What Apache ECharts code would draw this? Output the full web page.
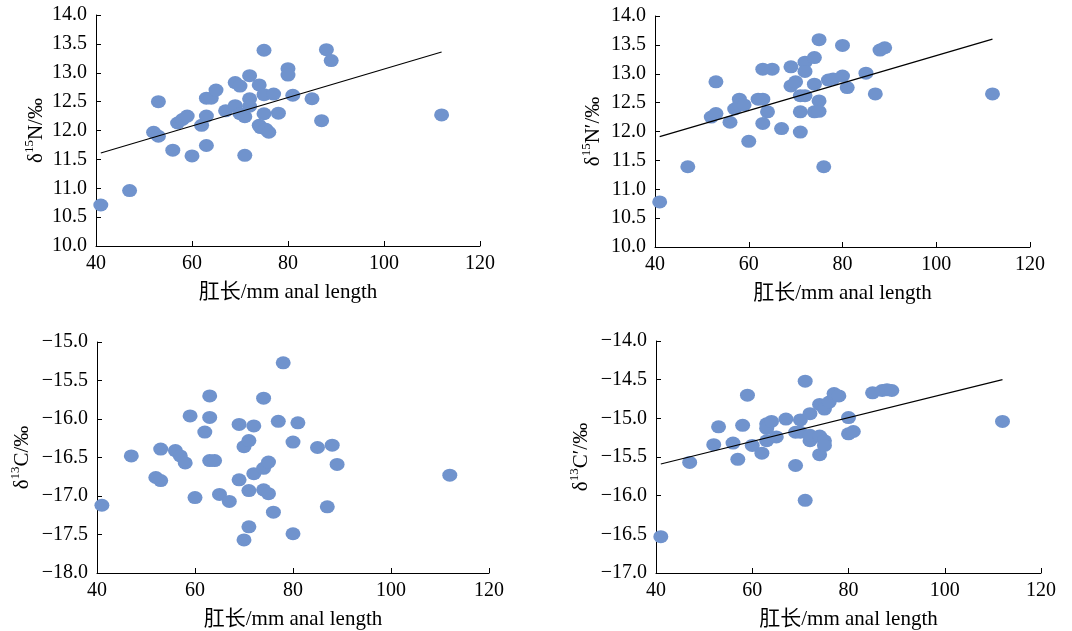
<!DOCTYPE html>
<html>
<head>
<meta charset="utf-8">
<script src="https://cdn.jsdelivr.net/npm/echarts@6/dist/echarts.min.js"></script>
<style>
  html, body { margin: 0; padding: 0; background: #fff; }
  #chart { width: 1072px; height: 631px; }
</style>
</head>
<body>
<div id="chart"></div>
<script>
// anal length (mm) vs isotope values
const xTicks = [40, 60, 80, 100, 120];

const n15 = [
  [41, 10.71], [47, 10.96], [53, 12.50], [52, 11.97], [53, 11.90], [56, 11.66],
  [57, 12.13], [58, 12.19], [59, 12.25], [60, 11.56], [62, 12.09], [63, 12.25],
  [63, 11.74], [63, 12.56], [64, 12.56], [65, 12.70], [67, 12.34], [69, 12.83],
  [70, 12.77], [69, 12.43], [70, 12.29], [71, 12.24], [71, 11.57], [72, 12.95],
  [72, 12.55], [72, 12.42], [74, 12.79], [74, 12.09], [74.3, 12.05], [75, 13.39],
  [75, 12.62], [75, 12.29], [75.4, 12.02], [76, 11.97], [77, 12.63], [78, 12.30],
  [80, 13.07], [80, 12.96], [81, 12.61], [85, 12.55], [87, 12.17], [88, 13.40],
  [89, 13.21], [112, 12.27]
];
const n15Fit = [[41, 11.61], [112, 13.36]];

const n15Adj = [
  [41, 10.78], [47, 11.39], [53, 12.86], [52, 12.25], [53, 12.31], [56, 12.16],
  [57, 12.39], [58, 12.56], [58, 12.46], [59, 12.46], [60, 11.83], [62, 12.56],
  [63, 12.56], [63, 13.08], [63, 12.14], [64, 12.34], [65, 13.08], [67, 12.05],
  [69, 13.12], [69, 12.79], [70, 12.86], [71, 12.62], [71, 12.34], [71, 11.99],
  [72, 13.20], [72, 13.04], [72, 12.62], [74, 13.28], [74, 12.82], [74, 12.34],
  [75, 13.59], [75, 12.53], [75, 12.35], [76, 11.39], [77, 12.89], [78, 12.91],
  [80, 13.49], [80, 12.96], [81, 12.76], [85, 13.01], [87, 12.65], [88, 13.41],
  [89, 13.45], [112, 12.65]
];
const n15AdjFit = [[41, 11.91], [112, 13.60]];

const c13 = [
  [41, -17.12], [47, -16.48], [53, -16.39], [52, -16.76], [53, -16.80], [56, -16.41],
  [57, -16.48], [58, -16.57], [59, -15.96], [60, -17.02], [62, -16.17], [63, -15.70],
  [63, -15.98], [63, -16.54], [64, -16.54], [65, -16.98], [67, -17.07], [69, -16.07],
  [69, -16.79], [70, -16.36], [70, -17.57], [71, -16.28], [71, -16.93], [71, -17.40],
  [72, -16.09], [72, -16.71], [74, -15.73], [74, -16.92], [74, -16.64], [75, -16.56],
  [75, -16.97], [76, -17.21], [77, -16.03], [78, -15.27], [80, -16.30], [80, -17.49],
  [81, -16.05], [85, -16.37], [87, -17.14], [88, -16.34], [89, -16.59], [112, -16.73]
];

const c13Adj = [
  [41, -16.53], [47, -15.57], [53, -15.11], [52, -15.34], [56, -15.32], [57, -15.53],
  [58, -15.09], [59, -14.70], [60, -15.35], [62, -15.45], [63, -15.07], [63, -15.13],
  [63, -15.29], [64, -15.04], [65, -15.24], [67, -15.01], [69, -15.61], [69, -15.18],
  [70, -15.02], [70, -15.18], [71, -14.52], [71, -16.06], [72, -14.94], [72, -15.29],
  [72, -15.22], [74, -14.82], [74, -15.23], [74, -15.47], [75, -14.88], [75, -15.29],
  [75, -15.35], [76, -14.79], [77, -14.68], [78, -14.71], [80, -14.99], [80, -15.20],
  [81, -15.17], [85, -14.67], [87, -14.64], [88, -14.63], [89, -14.64], [112, -15.04]
];
const c13AdjFit = [[41, -15.59], [112, -14.50]];

const dotColor = "#7093cd";
const font = "'Liberation Serif', 'Times New Roman', 'Noto Sans CJK SC', serif";
const xName = "肛长/mm anal length";

const panels = [
  { grid: { left: 96, top: 15, width: 384, height: 231 }, min: 10, max: 14,
    name: "δ{sup|15}N/‰", gap: 47, points: n15, fit: n15Fit },
  { grid: { left: 655, top: 16, width: 375, height: 231 }, min: 10, max: 14,
    name: "δ{sup|15}N′/‰", gap: 49, points: n15Adj, fit: n15AdjFit },
  { grid: { left: 97, top: 342, width: 392, height: 234 }, min: -18, max: -15,
    name: "δ{sup|13}C/‰", gap: 62, points: c13, fit: null },
  { grid: { left: 656, top: 341, width: 385, height: 234 }, min: -17, max: -14,
    name: "δ{sup|13}C′/‰", gap: 62, points: c13Adj, fit: c13AdjFit }
];

const axisLine = { lineStyle: { color: "#000", width: 1 } };

const option = {
  animation: false,
  backgroundColor: "#fff",
  grid: panels.map((p) => p.grid),
  xAxis: panels.map((p, i) => ({
    gridIndex: i,
    type: "value",
    min: xTicks[0],
    max: xTicks[xTicks.length - 1],
    interval: 20,
    axisLine: { show: true, ...axisLine },
    axisTick: { show: true, inside: true, length: 5, lineStyle: { color: "#000" } },
    axisLabel: { color: "#000", fontFamily: font, fontSize: 20, margin: 8 },
    splitLine: { show: false },
    name: xName,
    nameLocation: "middle",
    nameGap: 36,
    nameTextStyle: { color: "#000", fontFamily: font, fontSize: 21 }
  })),
  yAxis: panels.map((p, i) => ({
    gridIndex: i,
    type: "value",
    min: p.min,
    max: p.max,
    interval: 0.5,
    axisLine: { show: true, ...axisLine },
    axisTick: { show: true, inside: true, length: 5, lineStyle: { color: "#000" } },
    axisLabel: {
      color: "#000", fontFamily: font, fontSize: 20, margin: 9,
      formatter: (v) => v.toFixed(1).replace("-", "−")
    },
    splitLine: { show: false },
    name: p.name,
    nameLocation: "middle",
    nameGap: p.gap,
    nameTextStyle: {
      color: "#000", fontFamily: font, fontSize: 21,
      rich: {
        sup: { fontFamily: font, fontSize: 13, verticalAlign: "top", lineHeight: 26 }
      }
    }
  })),
  series: []
};

panels.forEach((p, i) => {
  option.series.push({
    type: "scatter",
    xAxisIndex: i,
    yAxisIndex: i,
    data: p.points,
    symbol: "circle",
    symbolSize: [15, 13],
    itemStyle: { color: dotColor, opacity: 1 }
  });
  if (p.fit) {
    option.series.push({
      type: "line",
      xAxisIndex: i,
      yAxisIndex: i,
      data: p.fit,
      symbol: "none",
      z: 3,
      lineStyle: { color: "#000", width: 1.2 }
    });
  }
});

const chart = echarts.init(document.getElementById("chart"));
chart.setOption(option);
</script>
</body>
</html>
